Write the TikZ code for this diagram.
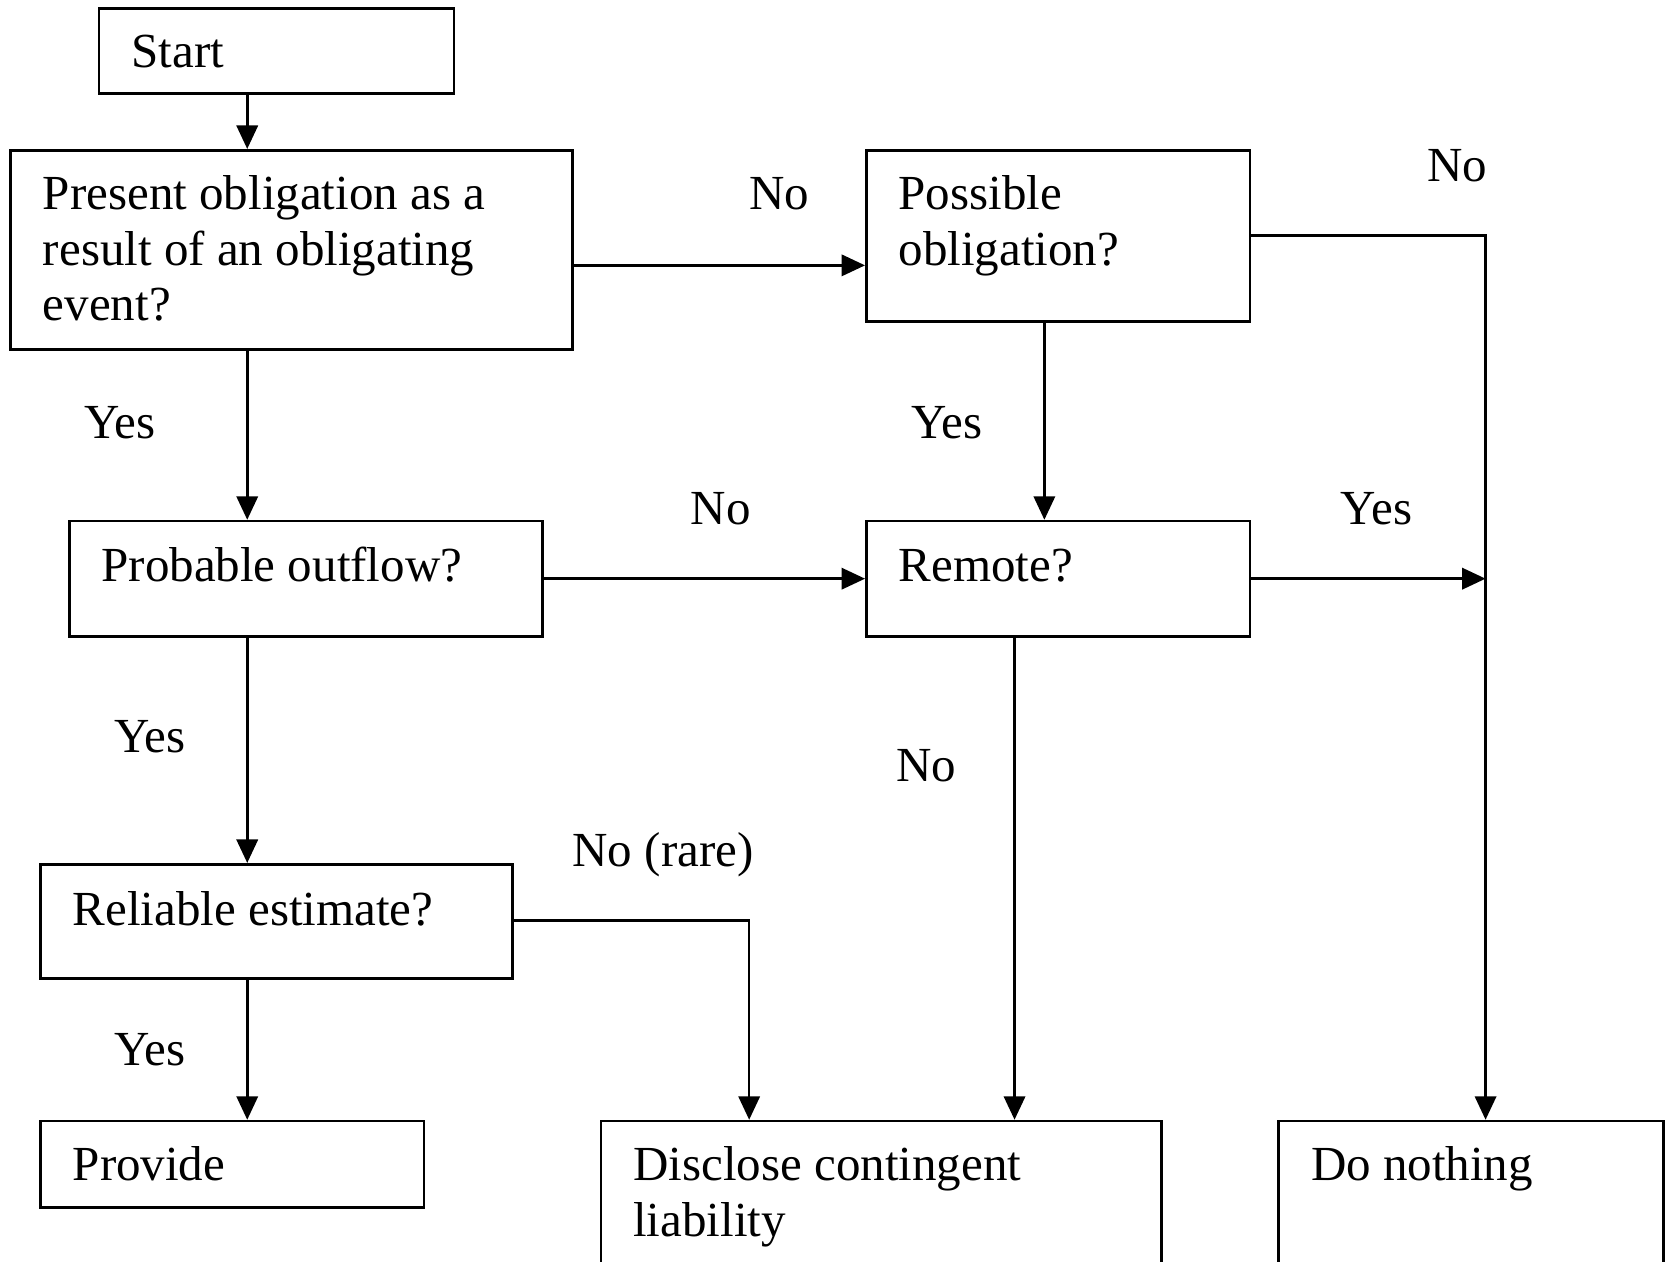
\documentclass[tikz,border=0pt]{standalone}
\usepackage{fontspec}
\setmainfont{Liberation Serif}
\usetikzlibrary{arrows.meta,fit}
\begin{document}
\begin{tikzpicture}[x=0.025cm,y=-0.025cm,
  box/.style={draw,line width=1.8pt,inner sep=0pt,rectangle},
  txt/.style={anchor=base west,inner sep=0pt,font=\fontsize{32.7pt}{37pt}\selectfont,align=left},
  arr/.style={line width=1.7pt,-{Triangle[length=0.55cm,width=0.5cm]}}]
\useasboundingbox (0,0) rectangle (1568,1184);
\clip (0,0) rectangle (1568,1184);
% boxes
\node[box,fit={(93,8) (426,88)}] (start) {};
\node[box,fit={(10,141) (537,328)}] (present) {};
\node[box,fit={(813,141) (1173,302)}] (possible) {};
\node[box,fit={(65,489) (509,597)}] (probable) {};
\node[box,fit={(813,489) (1173,597)}] (remote) {};
\node[box,fit={(38,811) (481,918)}] (reliable) {};
\node[box,fit={(38,1052) (398,1133)}] (provide) {};
\node[box,fit={(564,1052) (1090,1220)}] (disclose) {};
\node[box,fit={(1200,1052) (1561,1220)}] (nothing) {};
% box texts (anchor = baseline of last line)
\node[txt] (startT) at (123,63) {Start};
\node[txt] (presentT) at (40,301) {Present obligation as a\\result of an obligating\\event?};
\node[txt] (possibleT) at (843,249) {Possible\\obligation?};
\node[txt] (probableT) at (95,546) {Probable outflow?};
\node[txt] (remoteT) at (843,546) {Remote?};
\node[txt] (reliableT) at (68,868) {Reliable estimate?};
\node[txt] (provideT) at (68,1108) {Provide};
\node[txt] (discloseT) at (594,1160) {Disclose contingent\\liability};
\node[txt] (nothingT) at (1230,1108) {Do nothing};
% labels
\node[txt] (l1) at (703,197) {No};
\node[txt] (l2) at (1339,170) {No};
\node[txt] (l3) at (79,411) {Yes};
\node[txt] (l4) at (855,411) {Yes};
\node[txt] (l5) at (648,492) {No};
\node[txt] (l6) at (1258,492) {Yes};
\node[txt] (l7) at (107,706) {Yes};
\node[txt] (l8) at (841,733) {No};
\node[txt] (l9) at (537,813) {No (rare)};
\node[txt] (l10) at (107,1000) {Yes};
% routing coordinates
\coordinate (cx1) at (232,0);
\coordinate (cx2) at (980,0);
\coordinate (cx3) at (952,0);
\coordinate (cx4) at (703,0);
\coordinate (cx5) at (1394,0);
\coordinate (cy1) at (0,249);
\coordinate (cy2) at (0,221);
\coordinate (cy3) at (0,543);
\coordinate (cy4) at (0,864);
\coordinate (join) at (1394,543);
% connectors
\draw[arr] (start.south -| cx1) -- (present.north -| cx1);
\draw[arr] (present.east |- cy1) -- (possible.west |- cy1);
\draw[arr] (possible.east |- cy2) -| (nothing.north -| cx5);
\draw[arr] (possible.south -| cx2) -- (remote.north -| cx2);
\draw[arr] (present.south -| cx1) -- (probable.north -| cx1);
\draw[arr] (probable.east |- cy3) -- (remote.west |- cy3);
\draw[arr] (remote.east |- cy3) -- (join);
\draw[arr] (remote.south -| cx3) -- (disclose.north -| cx3);
\draw[arr] (probable.south -| cx1) -- (reliable.north -| cx1);
\draw[arr] (reliable.east |- cy4) -| (disclose.north -| cx4);
\draw[arr] (reliable.south -| cx1) -- (provide.north -| cx1);
\end{tikzpicture}
\end{document}
